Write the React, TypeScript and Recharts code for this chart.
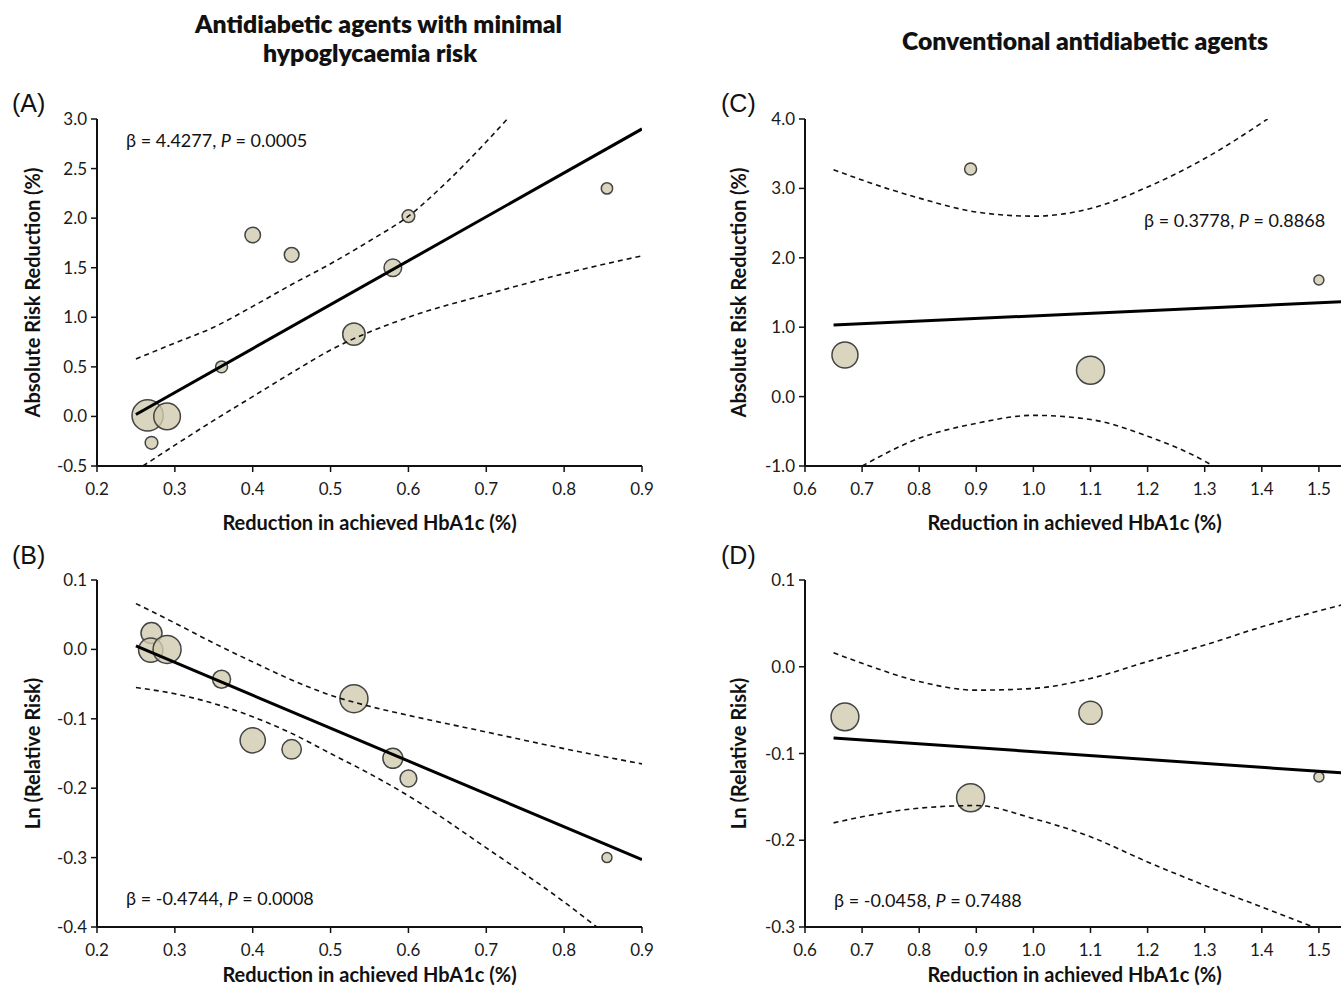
import React from 'react';
import { ScatterChart, Scatter, XAxis, YAxis, ZAxis } from 'recharts';

// ---- Panel A: absolute risk reduction, agents with minimal hypoglycaemia risk
const hbaA = [0.265, 0.29, 0.27, 0.36, 0.40, 0.45, 0.53, 0.58, 0.60, 0.855];
const arrA = [0.01, 0.0, -0.266, 0.5, 1.83, 1.63, 0.83, 1.5, 2.02, 2.3];
const weightA = [27.3, 19.9, 4.5, 4.0, 6.8, 6.1, 14.1, 8.7, 4.5, 3.6];
const fitXA = [0.25, 0.9];
const fitYA = [0.02, 2.9];
const upperXA = [0.25, 0.3, 0.35, 0.4, 0.45, 0.5, 0.55, 0.6, 0.65, 0.7, 0.727];
const upperYA = [0.58, 0.74, 0.9, 1.11, 1.33, 1.54, 1.77, 2.02, 2.37, 2.77, 3.0];
const lowerXA = [0.259, 0.3, 0.35, 0.4, 0.45, 0.5, 0.6, 0.7, 0.8, 0.9];
const lowerYA = [-0.5, -0.29, -0.04, 0.2, 0.44, 0.67, 1.0, 1.23, 1.44, 1.62];

// ---- Panel B: ln(relative risk), agents with minimal hypoglycaemia risk
const hbaB = [0.27, 0.269, 0.29, 0.36, 0.40, 0.45, 0.53, 0.58, 0.60, 0.855];
const lnRrB = [0.0235, -0.001, 0.0, -0.043, -0.131, -0.144, -0.071, -0.157, -0.186, -0.3];
const weightB = [12.4, 16.5, 22.0, 9.1, 17.8, 10.6, 22.0, 11.2, 7.9, 2.8];
const fitXB = [0.25, 0.9];
const fitYB = [0.005, -0.303];
const upperXB = [0.25, 0.3, 0.35, 0.4, 0.45, 0.5, 0.55, 0.6, 0.7, 0.8, 0.9];
const upperYB = [0.066, 0.038, 0.009, -0.018, -0.044, -0.066, -0.082, -0.095, -0.119, -0.143, -0.165];
const lowerXB = [0.25, 0.3, 0.35, 0.4, 0.45, 0.5, 0.55, 0.6, 0.7, 0.8, 0.842];
const lowerYB = [-0.055, -0.064, -0.078, -0.097, -0.121, -0.15, -0.179, -0.211, -0.286, -0.364, -0.4];

// ---- Panel C: absolute risk reduction, conventional agents
const hbaC = [0.67, 0.89, 1.1, 1.5];
const arrC = [0.6, 3.28, 0.38, 1.68];
const weightC = [19.0, 4.0, 22.0, 2.8];
const fitXC = [0.65, 1.6];
const fitYC = [1.03, 1.39];
const upperXC = [0.65, 0.7, 0.8, 0.9, 1.0, 1.1, 1.2, 1.3, 1.41];
const upperYC = [3.27, 3.12, 2.86, 2.66, 2.6, 2.71, 3.02, 3.43, 4.0];
const lowerXC = [0.7, 0.8, 0.9, 1.0, 1.1, 1.2, 1.3, 1.315];
const lowerYC = [-1.0, -0.6, -0.385, -0.27, -0.33, -0.57, -0.93, -1.0];

// ---- Panel D: ln(relative risk), conventional agents
const hbaD = [0.67, 0.89, 1.1, 1.5];
const lnRrD = [-0.0577, -0.151, -0.053, -0.127];
const weightD = [21.7, 22.0, 15.1, 2.8];
const fitXD = [0.65, 1.6];
const fitYD = [-0.082, -0.125];
const upperXD = [0.65, 0.7, 0.8, 0.9, 1.0, 1.1, 1.2, 1.3, 1.4, 1.55];
const upperYD = [0.016, 0.004, -0.017, -0.027, -0.025, -0.0135, 0.006, 0.025, 0.046, 0.073];
const lowerXD = [0.65, 0.7, 0.8, 0.9, 1.0, 1.1, 1.2, 1.3, 1.4, 1.49];
const lowerYD = [-0.18, -0.173, -0.163, -0.16, -0.175, -0.196, -0.225, -0.252, -0.277, -0.3];

// ---- Axis ticks
const xTicksLeft = [0.2, 0.3, 0.4, 0.5, 0.6, 0.7, 0.8, 0.9];
const xTicksRight = [0.6, 0.7, 0.8, 0.9, 1.0, 1.1, 1.2, 1.3, 1.4, 1.5];
const yTicksA = [-0.5, 0, 0.5, 1.0, 1.5, 2.0, 2.5, 3.0];
const yTicksB = [-0.4, -0.3, -0.2, -0.1, 0, 0.1];
const yTicksC = [-1, 0, 1, 2, 3, 4];
const yTicksD = [-0.3, -0.2, -0.1, 0, 0.1];

const xTitle = 'Reduction in achieved HbA1c (%)';
const font = 'Lato, "Open Sans", sans-serif';

const pts = (xs: number[], ys: number[]) => xs.map((x, i) => ({ x, y: ys[i] }));
const bubbles = (xs: number[], ys: number[], ws: number[]) =>
  xs.map((x, i) => ({ x, y: ys[i], w: ws[i] }));

// line-only scatter series draw no markers
const noMarker = () => <g />;

interface PanelProps {
  left: number;
  top: number;
  width: number;
  height: number;
  margin: { top: number; right: number; bottom: number; left: number };
  xAxisHeight: number;
  xDomain: [number, number];
  xTicks: number[];
  yDomain: [number, number];
  yTicks: number[];
  yTitle: string;
  yTitleOffset: number;
  xTitleOffset: number;
  xTitleDx: number;
  points: { x: number; y: number; w: number }[];
  fit: { x: number; y: number }[];
  upper: { x: number; y: number }[];
  lower: { x: number; y: number }[];
}

function Panel(p: PanelProps) {
  const tick = { fill: '#1a1a1a', fontSize: 17, fontFamily: font };
  const title = { fontSize: 20, fontWeight: 700, fontFamily: font, fill: '#111' };
  const dashed = { stroke: '#111', strokeWidth: 1.6, strokeDasharray: '5 4' };
  return (
    <div style={{ position: 'absolute', left: p.left, top: p.top }}>
      <ScatterChart width={p.width} height={p.height} margin={p.margin}>
        <XAxis
          type="number"
          dataKey="x"
          domain={p.xDomain}
          ticks={p.xTicks}
          interval={0}
          allowDataOverflow
          height={p.xAxisHeight}
          tickFormatter={(v: number) => v.toFixed(1)}
          tick={tick}
          tickSize={6}
          tickMargin={11}
          axisLine={{ stroke: '#111', strokeWidth: 2 }}
          tickLine={{ stroke: '#111', strokeWidth: 1.5 }}
          label={{
            value: xTitle,
            position: 'insideBottom',
            offset: p.xTitleOffset,
            dx: p.xTitleDx,
            style: title,
          }}
        />
        <YAxis
          type="number"
          dataKey="y"
          domain={p.yDomain}
          ticks={p.yTicks}
          interval={0}
          allowDataOverflow
          width={80}
          tickFormatter={(v: number) => v.toFixed(1)}
          tick={tick}
          tickSize={6}
          tickMargin={4}
          axisLine={{ stroke: '#111', strokeWidth: 2 }}
          tickLine={{ stroke: '#111', strokeWidth: 1.5 }}
          label={{
            value: p.yTitle,
            angle: -90,
            position: 'insideLeft',
            offset: p.yTitleOffset,
            style: { ...title, textAnchor: 'middle' },
          }}
        />
        <ZAxis type="number" dataKey="w" domain={[0, 30]} range={[0, 840]} />
        <Scatter
          data={p.points}
          fill="#d1cbaf"
          fillOpacity={0.8}
          stroke="#444"
          strokeWidth={1.5}
          isAnimationActive={false}
        />
        <Scatter
          data={p.upper}
          fill="none"
          line={dashed}
          lineJointType="monotone"
          shape={noMarker}
          isAnimationActive={false}
        />
        <Scatter
          data={p.lower}
          fill="none"
          line={dashed}
          lineJointType="monotone"
          shape={noMarker}
          isAnimationActive={false}
        />
        <Scatter
          data={p.fit}
          fill="none"
          line={{ stroke: '#000', strokeWidth: 3 }}
          lineJointType="linear"
          shape={noMarker}
          isAnimationActive={false}
        />
      </ScatterChart>
    </div>
  );
}

function Beta({ x, y, beta, p }: { x: number; y: number; beta: string; p: string }) {
  return (
    <text x={x} y={y} fontSize={18} fontFamily={font} fill="#111">
      {`β = ${beta}, `}
      <tspan fontStyle="italic">P</tspan>
      {` = ${p}`}
    </text>
  );
}

export default function App() {
  const marginTop = { top: 119, right: 58, bottom: 24, left: 17 };
  const marginBottom = { top: 110, right: 58, bottom: 4, left: 17 };
  return (
    <div
      style={{
        position: 'absolute',
        left: 0,
        top: 0,
        width: 1341,
        height: 991,
        overflow: 'hidden',
        background: '#fff',
        fontFamily: font,
      }}
    >
      <Panel
        left={0}
        top={0}
        width={700}
        height={560}
        margin={marginTop}
        xAxisHeight={70}
        xDomain={[0.2, 0.9]}
        xTicks={xTicksLeft}
        yDomain={[-0.5, 3.0]}
        yTicks={yTicksA}
        yTitle="Absolute Risk Reduction (%)"
        yTitleOffset={16}
        xTitleOffset={6}
        xTitleDx={0}
        points={bubbles(hbaA, arrA, weightA)}
        fit={pts(fitXA, fitYA)}
        upper={pts(upperXA, upperYA)}
        lower={pts(lowerXA, lowerYA)}
      />
      <Panel
        left={0}
        top={470}
        width={700}
        height={521}
        margin={marginBottom}
        xAxisHeight={60}
        xDomain={[0.2, 0.9]}
        xTicks={xTicksLeft}
        yDomain={[-0.4, 0.1]}
        yTicks={yTicksB}
        yTitle="Ln (Relative Risk)"
        yTitleOffset={16}
        xTitleOffset={5}
        xTitleDx={0}
        points={bubbles(hbaB, lnRrB, weightB)}
        fit={pts(fitXB, fitYB)}
        upper={pts(upperXB, upperYB)}
        lower={pts(lowerXB, lowerYB)}
      />
      <Panel
        left={700}
        top={0}
        width={700}
        height={560}
        margin={{ ...marginTop, left: 25, right: 24 }}
        xAxisHeight={70}
        xDomain={[0.6, 1.6]}
        xTicks={xTicksRight}
        yDomain={[-1, 4]}
        yTicks={yTicksC}
        yTitle="Absolute Risk Reduction (%)"
        yTitleOffset={14}
        xTitleOffset={6}
        xTitleDx={-16}
        points={bubbles(hbaC, arrC, weightC)}
        fit={pts(fitXC, fitYC)}
        upper={pts(upperXC, upperYC)}
        lower={pts(lowerXC, lowerYC)}
      />
      <Panel
        left={700}
        top={470}
        width={700}
        height={521}
        margin={{ ...marginBottom, left: 25, right: 24 }}
        xAxisHeight={60}
        xDomain={[0.6, 1.6]}
        xTicks={xTicksRight}
        yDomain={[-0.3, 0.1]}
        yTicks={yTicksD}
        yTitle="Ln (Relative Risk)"
        yTitleOffset={14}
        xTitleOffset={5}
        xTitleDx={-16}
        points={bubbles(hbaD, lnRrD, weightD)}
        fit={pts(fitXD, fitYD)}
        upper={pts(upperXD, upperYD)}
        lower={pts(lowerXD, lowerYD)}
      />
      <svg
        width={1341}
        height={991}
        style={{ position: 'absolute', left: 0, top: 0, pointerEvents: 'none' }}
      >
        <g fontFamily={font} fontWeight={800} fontSize={25} fill="#111">
          <text x={195} y={33} textLength={367} lengthAdjust="spacingAndGlyphs">
            Antidiabetic agents with minimal
          </text>
          <text x={263} y={62} textLength={214} lengthAdjust="spacingAndGlyphs">
            hypoglycaemia risk
          </text>
          <text x={902} y={50} textLength={366} lengthAdjust="spacingAndGlyphs">
            Conventional antidiabetic agents
          </text>
        </g>
        <g fontFamily='"Liberation Sans", Arial, sans-serif' fontSize={25} fill="#111">
          <text x={12} y={112}>(A)</text>
          <text x={12} y={564}>(B)</text>
          <text x={721} y={112}>(C)</text>
          <text x={721} y={564}>(D)</text>
        </g>
        <Beta x={126} y={147} beta="4.4277" p="0.0005" />
        <Beta x={126} y={905} beta="-0.4744" p="0.0008" />
        <Beta x={1144} y={227} beta="0.3778" p="0.8868" />
        <Beta x={834} y={907} beta="-0.0458" p="0.7488" />
      </svg>
    </div>
  );
}
